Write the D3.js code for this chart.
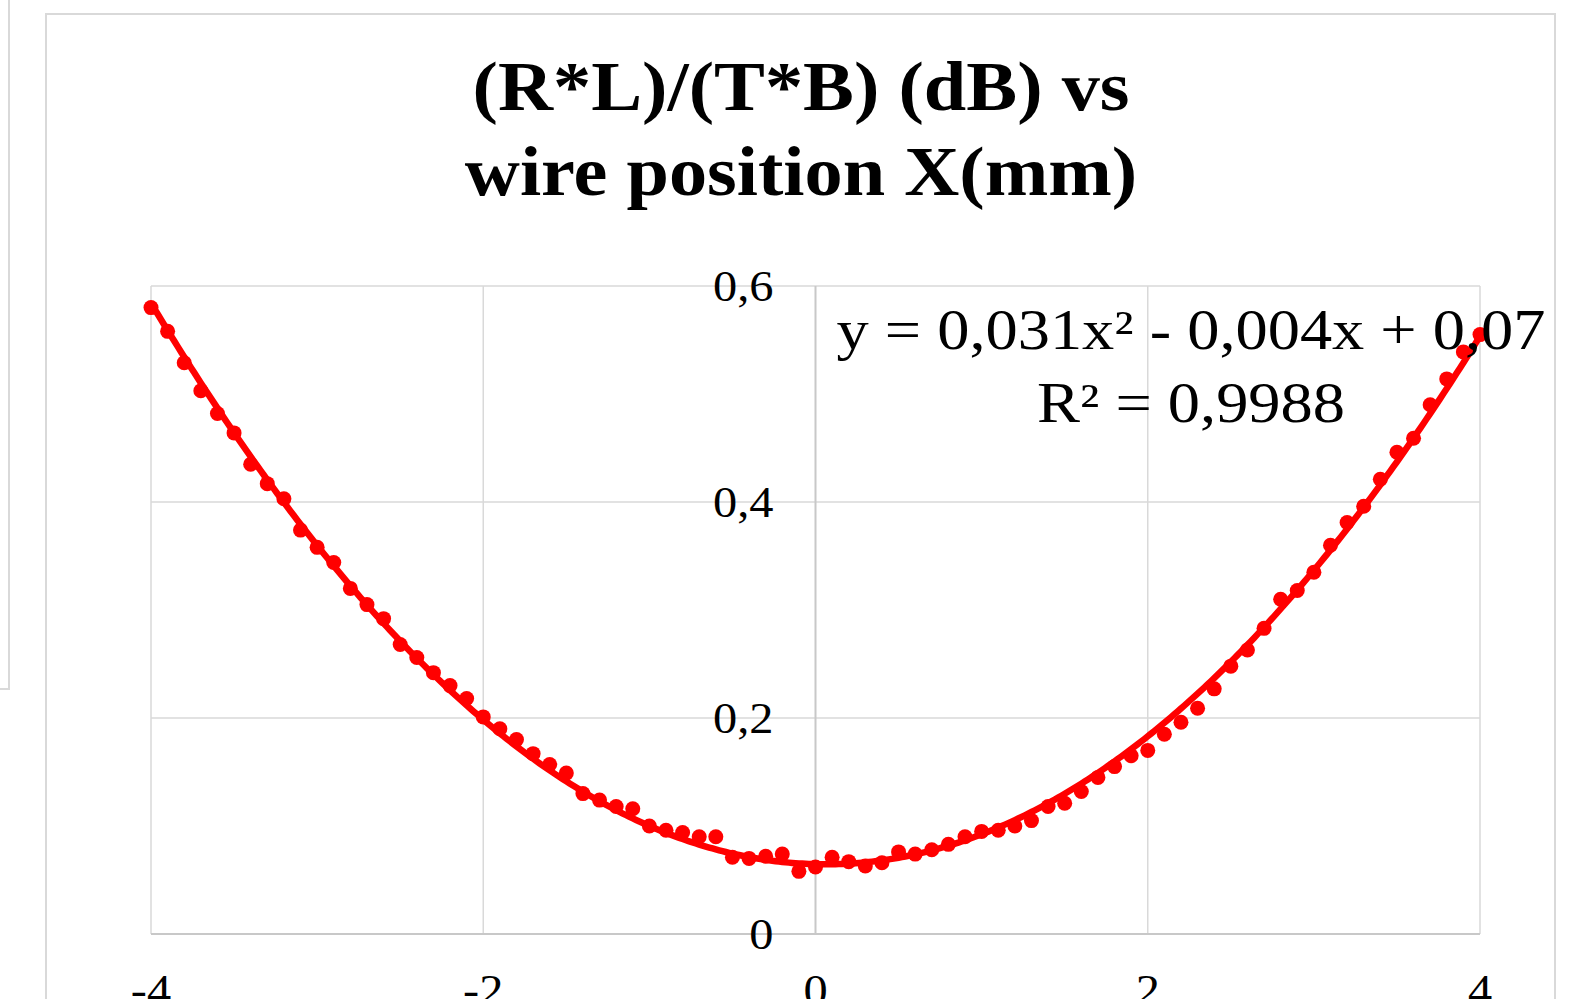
<!DOCTYPE html>
<html><head><meta charset="utf-8">
<script src="https://cdn.jsdelivr.net/npm/d3@7"></script>
<style>html,body{margin:0;padding:0;background:#fff;overflow:hidden}</style>
</head><body>
<svg id="chart" width="1576" height="999"></svg>
<script>
// ---- data ----
const xPositions = d3.range(81).map(i => +(-4 + i * 0.1).toFixed(1));
const ratioValues = [
  0.580, 0.558, 0.529, 0.503, 0.482, 0.464, 0.435, 0.417, 0.403, 0.374,
  0.358, 0.344, 0.320, 0.305, 0.292, 0.268, 0.256, 0.242, 0.230, 0.218,
  0.201, 0.190, 0.180, 0.167, 0.157, 0.149, 0.130, 0.124, 0.118, 0.116,
  0.100, 0.096, 0.094, 0.090, 0.090, 0.071, 0.070, 0.072, 0.074, 0.058,
  0.062, 0.071, 0.067, 0.063, 0.066, 0.076, 0.074, 0.078, 0.083, 0.090,
  0.095, 0.096, 0.100, 0.105, 0.118, 0.121, 0.132, 0.145, 0.155, 0.165,
  0.170, 0.185, 0.196, 0.209, 0.227, 0.248, 0.263, 0.283, 0.310, 0.318,
  0.335, 0.360, 0.381, 0.396, 0.421, 0.446, 0.459, 0.490, 0.514, 0.539,
  0.555
];
const xTicks = [-4, -2, 0, 2, 4];
const yTicks = [0, 0.2, 0.4, 0.6];
const yTickLabels = ["0", "0,2", "0,4", "0,6"];
const titleLines = ["(R*L)/(T*B) (dB) vs", "wire position X(mm)"];
const trendLabel = ["y = 0,031x\u00B2 - 0,004x + 0,07", "R\u00B2 = 0,9988"];

// ---- layout ----
const svg = d3.select("#chart");
const plot = {left: 151, right: 1480, top: 286, bottom: 934};
const x = d3.scaleLinear().domain([-4, 4]).range([plot.left, plot.right]);
const y = d3.scaleLinear().domain([0, 0.6]).range([plot.bottom, plot.top]);
const serif = "'Liberation Serif','Times New Roman',serif";
const red = "#ff0000";

// outer frames
svg.append("path").attr("d", "M9,0 V689 H0").attr("fill", "none")
  .attr("stroke", "#d9d9d9").attr("stroke-width", 2);
svg.append("rect").attr("x", 46).attr("y", 14).attr("width", 1509).attr("height", 1100)
  .attr("fill", "#fff").attr("stroke", "#d9d9d9").attr("stroke-width", 2);

function addText(str, px, py, anchor, size, weight, sx) {
  const g = svg.append("g").attr("transform", `translate(${px},${py}) scale(${sx},1)`);
  g.append("text").attr("x", 0).attr("y", 0).attr("text-anchor", anchor)
    .attr("font-family", serif).attr("font-size", size).attr("font-weight", weight)
    .attr("fill", "#000").text(str);
}

// gridlines
svg.append("g").selectAll("line").data(yTicks.filter(d => d !== 0)).join("line")
  .attr("x1", plot.left).attr("x2", plot.right)
  .attr("y1", d => y(d)).attr("y2", d => y(d))
  .attr("stroke", "#d9d9d9").attr("stroke-width", 1.5);
svg.append("g").selectAll("line").data(xTicks.filter(d => d !== 0)).join("line")
  .attr("x1", d => x(d)).attr("x2", d => x(d))
  .attr("y1", plot.top).attr("y2", plot.bottom)
  .attr("stroke", "#d9d9d9").attr("stroke-width", 1.5);
// axis lines
svg.append("line").attr("x1", plot.left).attr("x2", plot.right)
  .attr("y1", y(0)).attr("y2", y(0)).attr("stroke", "#c8c8c8").attr("stroke-width", 2);
svg.append("line").attr("x1", x(0)).attr("x2", x(0))
  .attr("y1", plot.top).attr("y2", plot.bottom).attr("stroke", "#c8c8c8").attr("stroke-width", 2);

// tick labels
const tickSize = 44, tickSx = 1.1;
yTicks.forEach((t, i) => addText(yTickLabels[i], x(0) - 42, y(t) + 15, "end", tickSize, "normal", tickSx));
xTicks.forEach(t => addText(String(t), x(t), plot.bottom + 71, "middle", tickSize, "normal", tickSx));

// markers
svg.append("g").selectAll("circle").data(xPositions).join("circle")
  .attr("cx", d => x(d)).attr("cy", (d, i) => y(ratioValues[i])).attr("r", 7.5)
  .attr("fill", red);

// quadratic least-squares trendline computed from the data
function quadFit(xs, ys) {
  let S = [0,0,0,0,0], T = [0,0,0];
  xs.forEach((xv, i) => {
    for (let k = 0; k < 5; k++) S[k] += Math.pow(xv, k);
    for (let k = 0; k < 3; k++) T[k] += ys[i] * Math.pow(xv, k);
  });
  const A = [[S[0],S[1],S[2],T[0]],[S[1],S[2],S[3],T[1]],[S[2],S[3],S[4],T[2]]];
  for (let c = 0; c < 3; c++) {
    for (let r = c + 1; r < 3; r++) {
      const f = A[r][c] / A[c][c];
      for (let k = c; k < 4; k++) A[r][k] -= f * A[c][k];
    }
  }
  const s = [0,0,0];
  for (let r = 2; r >= 0; r--) {
    let v = A[r][3];
    for (let k = r + 1; k < 3; k++) v -= A[r][k] * s[k];
    s[r] = v / A[r][r];
  }
  return s; // c0, c1, c2
}
const coef = quadFit(xPositions, ratioValues);
const curveX = d3.range(0, 401).map(i => -4 + i * 0.02);
svg.append("path").datum(curveX)
  .attr("d", d3.line().x(d => x(d)).y(d => y(coef[0] + coef[1] * d + coef[2] * d * d)))
  .attr("fill", "none").attr("stroke", red).attr("stroke-width", 6.5);

// trendline label
addText(trendLabel[0], 1191, 349, "middle", 56, "normal", 1.15);
addText(trendLabel[1], 1191, 422, "middle", 56, "normal", 1.15);

// title
addText(titleLines[0], 801, 110, "middle", 70, "bold", 1.09);
addText(titleLines[1], 801, 195, "middle", 70, "bold", 1.09);
</script>
</body></html>
